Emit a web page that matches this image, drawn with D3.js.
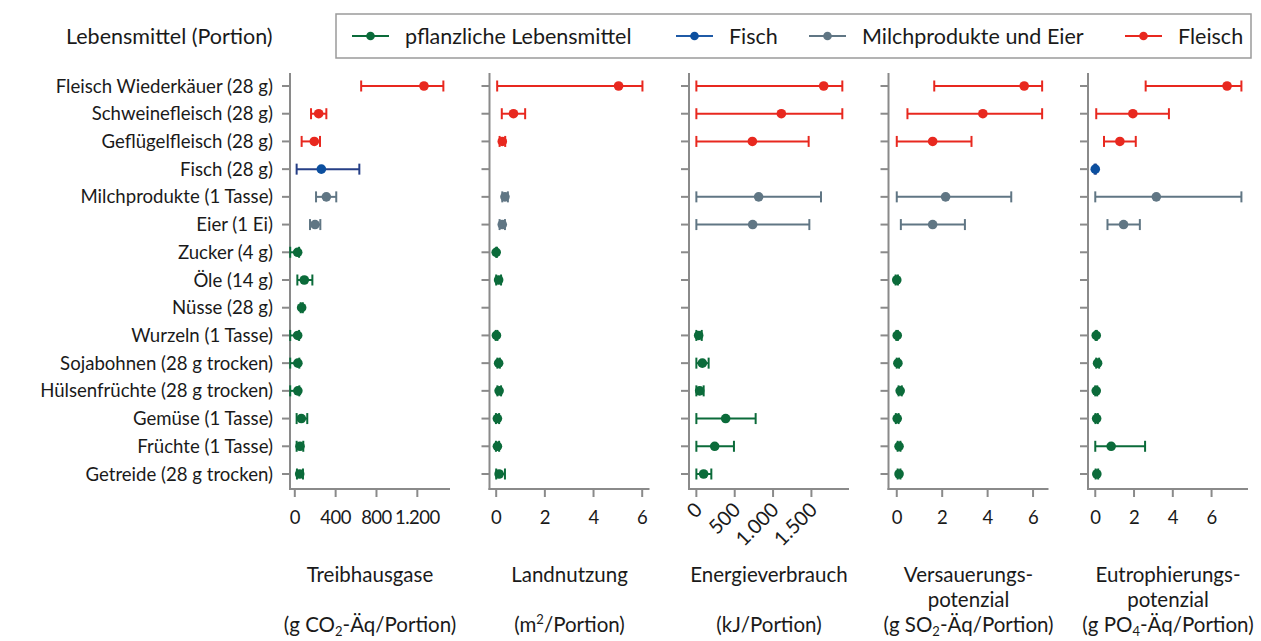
<!DOCTYPE html>
<html><head><meta charset="utf-8">
<script src="https://cdn.jsdelivr.net/npm/d3@7"></script>
<style>body{margin:0;background:#fff}svg{font-family:Lato,"Open Sans",sans-serif}</style>
</head><body><svg id="c" width="1261" height="641"></svg>
<script>
const categories = ["Fleisch Wiederkäuer (28 g)","Schweinefleisch (28 g)","Geflügelfleisch (28 g)","Fisch (28 g)","Milchprodukte (1 Tasse)","Eier (1 Ei)","Zucker (4 g)","Öle (14 g)","Nüsse (28 g)","Wurzeln (1 Tasse)","Sojabohnen (28 g trocken)","Hülsenfrüchte (28 g trocken)","Gemüse (1 Tasse)","Früchte (1 Tasse)","Getreide (28 g trocken)"];
const categoryGroup = ["Fleisch","Fleisch","Fleisch","Fisch","Milch","Milch","Pflanze","Pflanze","Pflanze","Pflanze","Pflanze","Pflanze","Pflanze","Pflanze","Pflanze"];
const groupNames = ["Pflanze","Fisch","Milch","Fleisch"];
const legendLabels = ["pflanzliche Lebensmittel","Fisch","Milchprodukte und Eier","Fleisch"];

// [low, mean, high] per category; null = no data
const treibhausgase = [[650,1265,1455],[159,234,309],[67,191,247],[18,260,632],[208,309,406],[149,198,250],[-45,28,42],[25,93,172],[58,67,78],[-45,28,42],[-45,30,44],[-45,30,44],[18,64,122],[18,51,83],[21,48,80]];
const landnutzung = [[0.04,5.03,6.01],[0.23,0.71,1.19],[0.14,0.25,0.37],null,[0.25,0.36,0.48],[0.14,0.25,0.36],[0,0,0.03],[0.0,0.1,0.2],null,[-0.02,0.01,0.05],[0.05,0.1,0.15],[0.05,0.12,0.2],[-0.01,0.05,0.12],[-0.01,0.05,0.12],[0.0,0.12,0.36]];
const energieverbrauch = [[0,1660,1903],[0,1108,1903],[0,730,1464],null,[0,812,1625],[0,734,1473],null,null,null,[0,30,70],[0,78,160],[0,43,95],[0,382,773],[0,239,490],[0,95,195]];
const versauerung = [[1.65,5.61,6.4],[0.47,3.79,6.4],[0,1.58,3.29],null,[0,2.15,5.04],[0.18,1.58,3.0],null,[-0.05,0,0.05],null,[-0.02,0.02,0.05],[0,0.05,0.1],[0.08,0.15,0.22],[-0.04,0.02,0.08],[0.04,0.1,0.16],[0.04,0.1,0.16]];
const eutrophierung = [[2.6,6.8,7.54],[0.05,1.94,3.8],[0.45,1.27,2.09],[-0.03,0,0.03],[0,3.15,7.54],[0.63,1.46,2.3],null,null,null,[0.02,0.05,0.08],[0.05,0.12,0.2],[0,0.05,0.1],[0.01,0.07,0.13],[0,0.82,2.57],[0.02,0.08,0.15]];

const panelData = [treibhausgase, landnutzung, energieverbrauch, versauerung, eutrophierung];
const panelDomains = [[-47,1520],[-0.275,6.3],[-96,1990],[-0.364,6.68],[-0.375,7.88]];
const panelTicks = [[0,400,800,1200],[0,2,4,6],[0,500,1000,1500],[0,2,4,6],[0,2,4,6]];
const panelLabels = [
  [[["Treibhausgase","n"]],[],[["(g CO","n"],["2","sub"],["-Äq/Portion)","n"]]],
  [[["Landnutzung","n"]],[],[["(m","n"],["2","sup"],["/Portion)","n"]]],
  [[["Energieverbrauch","n"]],[],[["(kJ/Portion)","n"]]],
  [[["Versauerungs-","n"]],[["potenzial","n"]],[["(g SO","n"],["2","sub"],["-Äq/Portion)","n"]]],
  [[["Eutrophierungs-","n"]],[["potenzial","n"]],[["(g PO","n"],["4","sub"],["-Äq/Portion)","n"]]]
];

const lineColor = {Pflanze:"#0b6b3a", Fisch:"#263f86", Milch:"#607684", Fleisch:"#e8281f"};
const dotColor = {Pflanze:"#0b6b3a", Fisch:"#0c4f9f", Milch:"#607684", Fleisch:"#e8281f"};
const legendLineColor = {Pflanze:"#0b6b3a", Fisch:"#1f5aa6", Milch:"#607684", Fleisch:"#e8281f"};

const de = d3.formatLocale({decimal:",", thousands:".", grouping:[3], currency:["","€"]});
const fmt = de.format(",d");

const svg = d3.select("#c");
const axisColor = "#8a8a8a";
const textColor = "#1a1a1a";
const yTop = 73, yBottom = 489;
const y = d3.scalePoint().domain(categories).range([86, 474]);
const panelLeft0 = 290, panelStep = 199.5, panelWidth = 160;
const rightLimit = 1254;

svg.append("g").selectAll("text").data(categories).join("text")
  .attr("x", 273).attr("y", d => y(d)).attr("dy","0.35em")
  .attr("text-anchor","end").attr("font-size", 18.6).attr("fill",textColor).text(d => d);

svg.append("text").attr("x", 66).attr("y", 36).attr("dy","0.35em")
  .attr("font-size",21.5).attr("fill",textColor).text("Lebensmittel (Portion)");

panelData.forEach((data, p) => {
  const x0 = panelLeft0 + p*panelStep;
  const x = d3.scaleLinear().domain(panelDomains[p]).range([x0, x0+panelWidth]);
  const g = svg.append("g");
  g.append("line").attr("x1",x0).attr("x2",x0).attr("y1",yTop).attr("y2",yBottom+1)
    .attr("stroke",axisColor).attr("stroke-width",2);
  g.selectAll(".yt").data(categories).join("line")
    .attr("x1",x0-8).attr("x2",x0).attr("y1",d=>y(d)).attr("y2",d=>y(d))
    .attr("stroke",axisColor).attr("stroke-width",2);
  g.append("line").attr("x1",x0-1).attr("x2",x0+panelWidth).attr("y1",yBottom).attr("y2",yBottom)
    .attr("stroke",axisColor).attr("stroke-width",2);
  g.selectAll(".xt").data(panelTicks[p]).join("line")
    .attr("x1",d=>x(d)).attr("x2",d=>x(d)).attr("y1",yBottom).attr("y2",yBottom+8)
    .attr("stroke",axisColor).attr("stroke-width",2);
  if (p === 2) {
    g.selectAll(".xl").data(panelTicks[p]).join("text")
      .attr("transform", d => `translate(${x(d)+7},${yBottom+22}) rotate(-45)`)
      .attr("text-anchor","end").attr("font-size",20).attr("fill",textColor).text(d=>fmt(d));
  } else {
    g.selectAll(".xl").data(panelTicks[p]).join("text")
      .attr("x", d=>x(d)).attr("y", yBottom+29).attr("dy","0.35em")
      .attr("text-anchor","middle").attr("font-size",18.5).attr("letter-spacing",-0.5)
      .attr("fill",textColor).text(d=>fmt(d));
  }
  const rows = data.map((v,i)=>({v, cat:categories[i], grp:categoryGroup[i]})).filter(r=>r.v);
  const eb = g.selectAll(".eb").data(rows).join("g");
  eb.append("line").attr("x1",r=>x(r.v[0])).attr("x2",r=>x(r.v[2]))
    .attr("y1",r=>y(r.cat)).attr("y2",r=>y(r.cat))
    .attr("stroke",r=>lineColor[r.grp]).attr("stroke-width",2);
  [0,2].forEach(k => eb.append("line").attr("x1",r=>x(r.v[k])).attr("x2",r=>x(r.v[k]))
    .attr("y1",r=>y(r.cat)-5.5).attr("y2",r=>y(r.cat)+5.5)
    .attr("stroke",r=>lineColor[r.grp]).attr("stroke-width",2));
  eb.append("circle").attr("cx",r=>x(r.v[1])).attr("cy",r=>y(r.cat)).attr("r",4.8)
    .attr("fill",r=>dotColor[r.grp]);
  const cx = x0 + panelWidth/2;
  const ys = [575, 600, 625];
  panelLabels[p].forEach((segs, li) => {
    if (!segs.length) return;
    const t = g.append("text").attr("x",cx).attr("y",ys[li]).attr("dy","0.35em")
      .attr("text-anchor","middle").attr("font-size",20.5).attr("fill",textColor);
    segs.forEach(([s,m],i) => {
      const ts = t.append("tspan").text(s);
      if (m==="sub") ts.attr("font-size",13).attr("dy","4");
      else if (m==="sup") ts.attr("font-size",13).attr("dy","-8");
      else if (i>0 && segs[i-1][1]==="sub") ts.attr("dy","-4");
      else if (i>0 && segs[i-1][1]==="sup") ts.attr("dy","8");
    });
    const w = t.node().getComputedTextLength();
    if (cx + w/2 > rightLimit) t.attr("x", rightLimit - w/2);
  });
});

const lg = svg.append("g");
lg.append("rect").attr("x",336).attr("y",14).attr("width",915).attr("height",44)
  .attr("fill","#fff").attr("stroke","#9a9a9a").attr("stroke-width",1.5);
const legendX = [352, 676, 809, 1125];
groupNames.forEach((gname,i) => {
  const lx = legendX[i], ly = 36;
  lg.append("line").attr("x1",lx).attr("x2",lx+37).attr("y1",ly).attr("y2",ly)
    .attr("stroke",legendLineColor[gname]).attr("stroke-width",2);
  lg.append("circle").attr("cx",lx+18.5).attr("cy",ly).attr("r",4.3).attr("fill",dotColor[gname]);
  lg.append("text").attr("x",lx+53).attr("y",ly).attr("dy","0.35em").attr("font-size",21.5)
    .attr("fill",textColor).text(legendLabels[i]);
});
</script></body></html>
